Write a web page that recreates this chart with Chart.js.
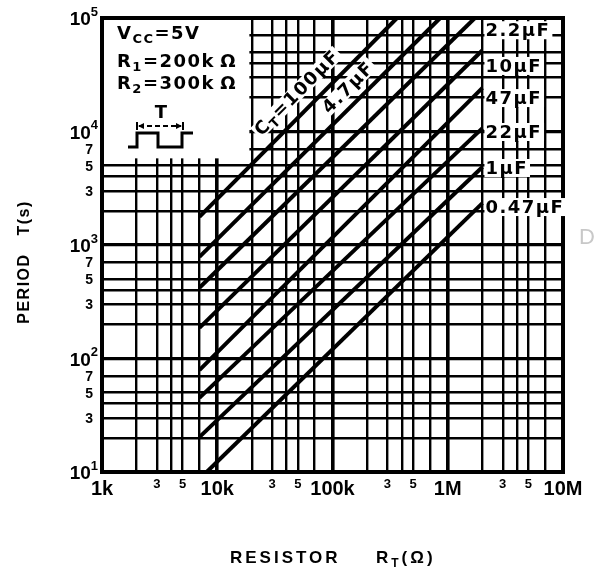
<!DOCTYPE html>
<html>
<head>
<meta charset="utf-8">
<script src="https://cdn.jsdelivr.net/npm/chart.js@4.4.1/dist/chart.umd.min.js"></script>
<style>
  html, body { margin: 0; padding: 0; background: #fff; }
  #wrap { position: relative; width: 594px; height: 568px; }
</style>
</head>
<body>
<div id="wrap"><canvas id="periodChart"></canvas></div>
<script>
// Lines, top to bottom, named by the label printed at them
const lineNames = ['CT=100µF', '4.7µF', '2.2µF', '10µF', '47µF', '22µF', '1µF', '0.47µF'];
const startR = [7e3, 7e3, 7e3, 7e3, 7e3, 7e3, 7e3, 8.1e3];
const startT = [1770, 785, 420, 186, 79, 45, 20.3, 10];
const endR = [3.63e5, 8.6e5, 1.72e6, 2e6, 2e6, 2e6, 2e6, 2e6];
const endT = [1e5, 1e5, 1e5, 52e3, 24.2e3, 10.7e3, 4.87e3, 2.34e3];

// Grid lines (1,2,3,4,5,7 per decade) and tick labels
const xGrid = [1e3, 2e3, 3e3, 4e3, 5e3, 7e3, 1e4, 2e4, 3e4, 4e4, 5e4, 7e4,
               1e5, 2e5, 3e5, 4e5, 5e5, 7e5, 1e6, 2e6, 3e6, 4e6, 5e6, 7e6, 1e7];
const xTickVals = [1e3, 3e3, 5e3, 1e4, 3e4, 5e4, 1e5, 3e5, 5e5, 1e6, 3e6, 5e6, 1e7];
const xTickLabels = ['1k', '3', '5', '10k', '3', '5', '100k', '3', '5', '1M', '3', '5', '10M'];
const yGrid = [10, 20, 30, 40, 50, 70, 100, 200, 300, 400, 500, 700,
               1e3, 2e3, 3e3, 4e3, 5e3, 7e3, 1e4, 2e4, 3e4, 4e4, 5e4, 7e4, 1e5];
const yTickVals = [10, 30, 50, 70, 100, 300, 500, 700, 1e3, 3e3, 5e3, 7e3, 1e4, 1e5];
const yTickLabels = ['10^1', '3', '5', '7', '10^2', '3', '5', '7', '10^3', '3', '5', '7', '10^4', '10^5'];

const SANS = "'Liberation Sans', Arial, sans-serif";
const WIDE = "'DejaVu Sans', sans-serif";

function isDecade(v) {
    const l = Math.log10(v);
    return Math.abs(l - Math.round(l)) < 1e-9;
}

function spacing(ctx, px) {
    if ('letterSpacing' in ctx) ctx.letterSpacing = px + 'px';
}

// parts: [text, 'sub' | 'sup' | undefined]
function drawRich(ctx, parts, x, y, size, family, align) {
    const fontFor = p => `bold ${p[1] ? Math.round(size * 0.7) : size}px ${family}`;
    let total = 0;
    parts.forEach(p => { ctx.font = fontFor(p); total += ctx.measureText(p[0]).width; });
    let cx = align === 'right' ? x - total : align === 'center' ? x - total / 2 : x;
    ctx.textAlign = 'left';
    parts.forEach(p => {
        ctx.font = fontFor(p);
        const dy = p[1] === 'sub' ? size * 0.22 : p[1] === 'sup' ? -size * 0.42 : 0;
        ctx.fillText(p[0], cx, y + dy);
        cx += ctx.measureText(p[0]).width;
    });
    return total;
}

const sheetDecor = {
    id: 'sheetDecor',
    beforeDatasetsDraw(chart) {
        const { ctx, chartArea: a, scales: { x: xs, y: ys } } = chart;
        // blank panel for the conditions box
        ctx.save();
        ctx.fillStyle = '#fff';
        ctx.fillRect(a.left + 2, a.top + 2,
            xs.getPixelForValue(1.9e4) - a.left - 2, ys.getPixelForValue(5.8e3) - a.top - 2);
        ctx.restore();
    },
    afterDatasetsDraw(chart) {
        const { ctx, chartArea: a, scales: { x: xs, y: ys } } = chart;
        ctx.save();
        ctx.fillStyle = '#000';
        ctx.strokeStyle = '#000';

        // frame
        ctx.lineWidth = 4;
        ctx.strokeRect(a.left, a.top, a.right - a.left, a.bottom - a.top);

        // conditions box
        ctx.textBaseline = 'alphabetic';
        spacing(ctx, 1.5);
        drawRich(ctx, [['V'], ['CC', 'sub'], ['=5V']], a.left + 15, a.top + 21, 18, WIDE, 'left');
        drawRich(ctx, [['R'], ['1', 'sub'], ['=200k\u2009Ω']], a.left + 15, a.top + 49, 18, WIDE, 'left');
        drawRich(ctx, [['R'], ['2', 'sub'], ['=300k\u2009Ω']], a.left + 15, a.top + 71, 18, WIDE, 'left');
        spacing(ctx, 0);
        drawRich(ctx, [['T']], a.left + 59, a.top + 100, 18, WIDE, 'center');

        // period arrow
        const ay = a.top + 108, ax0 = a.left + 35, ax1 = a.left + 81;
        ctx.lineWidth = 2;
        ctx.setLineDash([5, 3]);
        ctx.beginPath(); ctx.moveTo(ax0 + 2, ay); ctx.lineTo(ax1 - 2, ay); ctx.stroke();
        ctx.setLineDash([]);
        ctx.beginPath();
        ctx.moveTo(ax0, ay - 4); ctx.lineTo(ax0, ay + 4);
        ctx.moveTo(ax1, ay - 4); ctx.lineTo(ax1, ay + 4);
        ctx.stroke();
        ctx.beginPath();
        ctx.moveTo(ax0 + 1, ay); ctx.lineTo(ax0 + 7, ay - 3); ctx.lineTo(ax0 + 7, ay + 3); ctx.closePath();
        ctx.moveTo(ax1 - 1, ay); ctx.lineTo(ax1 - 7, ay - 3); ctx.lineTo(ax1 - 7, ay + 3); ctx.closePath();
        ctx.fill();

        // pulse waveform
        const lo = a.top + 129, hi = a.top + 115, wx = a.left;
        ctx.lineWidth = 3;
        ctx.lineJoin = 'miter';
        ctx.beginPath();
        ctx.moveTo(wx + 26, lo); ctx.lineTo(wx + 35, lo); ctx.lineTo(wx + 35, hi);
        ctx.lineTo(wx + 56, hi); ctx.lineTo(wx + 56, lo); ctx.lineTo(wx + 80, lo);
        ctx.lineTo(wx + 80, hi); ctx.lineTo(wx + 91, hi);
        ctx.stroke();

        // labels along the two top lines
        const p0x = xs.getPixelForValue(startR[0]), p0y = ys.getPixelForValue(startT[0]);
        const p1x = xs.getPixelForValue(endR[0]), p1y = ys.getPixelForValue(endT[0]);
        const ang = Math.atan2(p1y - p0y, p1x - p0x);
        const diag = [
            { parts: [['C'], ['T', 'sub'], ['=100µF']], r: 4.9e4, t: 2.2e4 },
            { parts: [['4.7µF']], r: 1.36e5, t: 2.45e4 }
        ];
        spacing(ctx, 1.5);
        diag.forEach(d => {
            ctx.save();
            ctx.translate(xs.getPixelForValue(d.r), ys.getPixelForValue(d.t));
            ctx.rotate(ang);
            let w = 0;
            d.parts.forEach(p => { ctx.font = `bold ${p[1] ? 13 : 18}px ${WIDE}`; w += ctx.measureText(p[0]).width; });
            ctx.fillStyle = '#fff';
            ctx.fillRect(-w / 2 - 2, -8, w + 4, 16);
            ctx.fillStyle = '#000';
            drawRich(ctx, d.parts, 0, 6, 18, WIDE, 'center');
            ctx.restore();
        });

        // labels at the right-hand ends
        const rightLabels = [
            { text: '2.2µF', t: 7.8e4 }, { text: '10µF', t: 3.78e4 }, { text: '47µF', t: 1.97e4 },
            { text: '22µF', t: 9.9e3 }, { text: '1µF', t: 4.77e3 }, { text: '0.47µF', t: 2.16e3 }
        ];
        const lx = xs.getPixelForValue(2e6) + 3;
        ctx.font = `bold 18px ${WIDE}`;
        ctx.textAlign = 'left';
        ctx.textBaseline = 'middle';
        rightLabels.forEach(l => {
            const y = ys.getPixelForValue(l.t);
            const w = ctx.measureText(l.text).width;
            ctx.fillStyle = '#fff';
            ctx.fillRect(lx - 1, y - 9, w + 3, 18);
            ctx.fillStyle = '#000';
            ctx.fillText(l.text, lx, y + 1);
        });
        spacing(ctx, 0);
        ctx.restore();
    },
    afterDraw(chart) {
        const { ctx, chartArea: a, scales: { y: ys } } = chart;
        ctx.save();
        ctx.fillStyle = '#000';
        ctx.textBaseline = 'middle';

        // y tick labels with exponents
        yTickVals.forEach((v, i) => {
            const y = ys.getPixelForValue(v);
            const lab = yTickLabels[i];
            if (lab.includes('^')) {
                const [base, exp] = lab.split('^');
                ctx.font = `bold 13px ${SANS}`;
                const ew = ctx.measureText(exp).width;
                ctx.textAlign = 'right';
                ctx.fillText(exp, a.left - 4, y - 6);
                ctx.font = `bold 19px ${SANS}`;
                ctx.fillText(base, a.left - 4 - ew, y + 2);
            } else {
                ctx.font = `bold 14px ${SANS}`;
                ctx.textAlign = 'right';
                ctx.fillText(lab, a.left - 9, y + 1);
            }
        });

        // axis titles
        spacing(ctx, 3);
        ctx.textBaseline = 'alphabetic';
        drawRich(ctx, [['RESISTOR']], 230, 563, 17, SANS, 'left');
        drawRich(ctx, [['R'], ['T', 'sub'], ['(Ω)']], 376, 563, 17, SANS, 'left');
        ctx.save();
        ctx.translate(29, 262);
        ctx.rotate(-Math.PI / 2);
        spacing(ctx, 1.5);
        drawRich(ctx, [['PERIOD   T(s)']], 0, 0, 16, SANS, 'center');
        ctx.restore();
        spacing(ctx, 0);

        // faint scan watermark at the edge
        ctx.fillStyle = '#c8c8c8';
        ctx.font = `22px ${SANS}`;
        ctx.textAlign = 'left';
        ctx.textBaseline = 'middle';
        ctx.fillText('D', 579, 238);
        ctx.restore();
    }
};

const lineSets = lineNames.map((name, i) => ({
    label: name,
    data: [{ x: startR[i], y: startT[i] }, { x: endR[i], y: endT[i] }],
    showLine: true,
    borderColor: '#000',
    borderWidth: 4,
    borderCapStyle: 'butt',
    pointRadius: 0,
    fill: false
}));

new Chart(document.getElementById('periodChart'), {
    type: 'scatter',
    data: { datasets: lineSets },
    options: {
        responsive: true,
        maintainAspectRatio: false,
        animation: false,
        layout: { padding: { top: 18, right: 31, left: 0, bottom: 0 } },
        plugins: { legend: { display: false }, tooltip: { enabled: false } },
        scales: {
            x: {
                type: 'logarithmic',
                min: 1e3,
                max: 1e7,
                afterBuildTicks: s => { s.ticks = xGrid.map(v => ({ value: v })); },
                afterFit: s => { s.height = 96; },
                border: { display: false },
                grid: {
                    color: '#000',
                    drawTicks: false,
                    lineWidth: c => (c.tick && isDecade(c.tick.value)) ? 3.6 : 2.4
                },
                ticks: {
                    autoSkip: false,
                    maxRotation: 0,
                    padding: 5,
                    color: '#000',
                    callback: v => {
                        const i = xTickVals.indexOf(v);
                        return i >= 0 ? xTickLabels[i] : '';
                    },
                    font: c => ({
                        family: SANS,
                        weight: 'bold',
                        size: (c.tick && isDecade(c.tick.value)) ? 20 : 13
                    })
                }
            },
            y: {
                type: 'logarithmic',
                min: 10,
                max: 1e5,
                afterBuildTicks: s => { s.ticks = yGrid.map(v => ({ value: v })); },
                afterFit: s => { s.width = 102; },
                border: { display: false },
                grid: {
                    color: '#000',
                    drawTicks: false,
                    lineWidth: c => (c.tick && isDecade(c.tick.value)) ? 3.2 : 2.4
                },
                ticks: { display: false }
            }
        }
    },
    plugins: [sheetDecor]
});
</script>
</body>
</html>
